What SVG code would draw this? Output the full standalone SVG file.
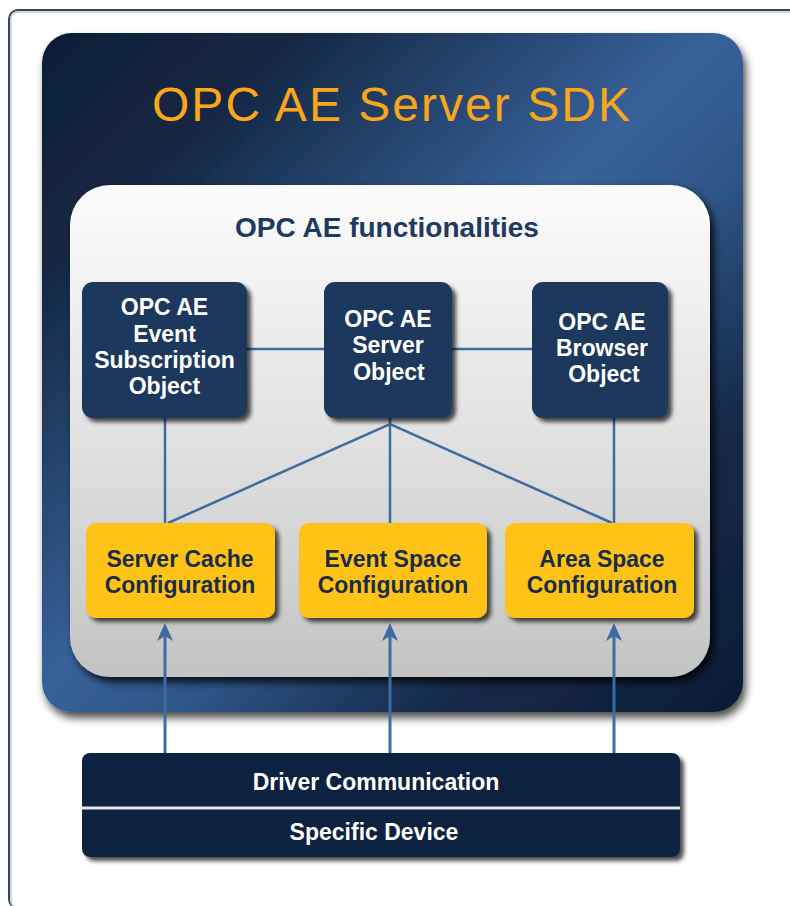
<svg xmlns="http://www.w3.org/2000/svg" width="790" height="906" viewBox="0 0 790 906">
  <defs>
    <linearGradient id="sdkFill" x1="0" y1="0" x2="1" y2="1">
      <stop offset="0" stop-color="#0f1e36"/>
      <stop offset="0.18" stop-color="#142743"/>
      <stop offset="0.48" stop-color="#37629a"/>
      <stop offset="0.6" stop-color="#2e5587"/>
      <stop offset="0.78" stop-color="#15294a"/>
      <stop offset="1" stop-color="#0d1c34"/>
    </linearGradient>
    <linearGradient id="panelFill" x1="0" y1="0" x2="0" y2="1">
      <stop offset="0" stop-color="#fcfcfc"/>
      <stop offset="0.5" stop-color="#e2e2e2"/>
      <stop offset="1" stop-color="#c3c3c3"/>
    </linearGradient>
    <filter id="bigShadow" x="-10%" y="-10%" width="125%" height="125%">
      <feDropShadow dx="3" dy="6" stdDeviation="4" flood-color="#000" flood-opacity="0.7"/>
    </filter>
    <filter id="panelShadow" x="-10%" y="-10%" width="125%" height="125%">
      <feDropShadow dx="4" dy="5" stdDeviation="4" flood-color="#000" flood-opacity="0.85"/>
    </filter>
    <filter id="boxShadow" x="-15%" y="-15%" width="135%" height="135%">
      <feDropShadow dx="4" dy="4" stdDeviation="2" flood-color="#000" flood-opacity="0.7"/>
    </filter>
    <marker id="arrowUp" markerUnits="userSpaceOnUse" viewBox="0 0 18 16" markerWidth="18" markerHeight="16" refX="7" refY="8" orient="auto">
      <path d="M0,0 L18,8 L0,16 L5,8 Z" fill="#3e6ba0"/>
    </marker>
    <style>
      .navy { fill: #1c375b; }
      .gold { fill: #fec313; }
      .wire { stroke: #3e6ba0; stroke-width: 2.5; fill: none; }
      .feed { stroke: #3e6ba0; stroke-width: 3; fill: none; }
      .lbl-w { font-family: "Liberation Sans", Arial, sans-serif; font-weight: bold; font-size: 23px; fill: #ffffff; text-anchor: middle; }
      .lbl-d { font-family: "Liberation Sans", Arial, sans-serif; font-weight: bold; font-size: 23px; fill: #1b2c45; text-anchor: middle; }
    </style>
  </defs>

  <rect width="790" height="906" fill="#ffffff"/>

  <!-- page frame -->
  <g id="frame">
    <rect x="9" y="10" width="820" height="898" rx="9" fill="none" stroke="#34455c" stroke-width="2"/>
    <rect x="11" y="12" width="816" height="896" rx="7" fill="none" stroke="#c5cad2" stroke-width="1.5"/>
  </g>

  <!-- SDK container -->
  <g id="sdk">
    <rect x="42" y="33" width="701" height="679" rx="30" fill="url(#sdkFill)" filter="url(#bigShadow)"/>
    <text x="391" y="121" font-family="'Liberation Sans', Arial, sans-serif" font-size="48" fill="#f9a61a" text-anchor="middle" textLength="478" lengthAdjust="spacing">OPC AE Server SDK</text>
  </g>

  <g id="functionalities">
    <rect x="70" y="185" width="640" height="492" rx="40" fill="url(#panelFill)" filter="url(#panelShadow)"/>
    <text x="387" y="237" font-family="'Liberation Sans', Arial, sans-serif" font-weight="bold" font-size="28" fill="#1e3a5f" text-anchor="middle">OPC AE functionalities</text>
  </g>

  <!-- connectors -->
  <g id="connectors">
    <line class="wire" x1="247" y1="349" x2="324" y2="349"/>
    <line class="wire" x1="452" y1="349" x2="532" y2="349"/>
    <line class="wire" x1="165" y1="418" x2="165" y2="523"/>
    <line class="wire" x1="614" y1="418" x2="614" y2="523"/>
    <line class="wire" x1="390" y1="418" x2="390" y2="523"/>
    <polyline class="wire" points="168,523 390,424 612,523"/>
    <line class="feed" x1="165" y1="753" x2="165" y2="634" marker-end="url(#arrowUp)"/>
    <line class="feed" x1="390" y1="753" x2="390" y2="634" marker-end="url(#arrowUp)"/>
    <line class="feed" x1="614" y1="753" x2="614" y2="634" marker-end="url(#arrowUp)"/>
  </g>

  <!-- object nodes -->
  <g id="subscription-object">
    <rect class="navy" x="82" y="282" width="165" height="136" rx="11" filter="url(#boxShadow)"/>
    <text class="lbl-w" x="164.5" y="315">OPC AE</text>
    <text class="lbl-w" x="164.5" y="342">Event</text>
    <text class="lbl-w" x="164.5" y="368">Subscription</text>
    <text class="lbl-w" x="164.5" y="394">Object</text>
  </g>
  <g id="server-object">
    <rect class="navy" x="324" y="282" width="128" height="136" rx="11" filter="url(#boxShadow)"/>
    <text class="lbl-w" x="388" y="327">OPC AE</text>
    <text class="lbl-w" x="388" y="353">Server</text>
    <text class="lbl-w" x="389" y="380">Object</text>
  </g>
  <g id="browser-object">
    <rect class="navy" x="532" y="282" width="136" height="136" rx="11" filter="url(#boxShadow)"/>
    <text class="lbl-w" x="602" y="330">OPC AE</text>
    <text class="lbl-w" x="602" y="356">Browser</text>
    <text class="lbl-w" x="604" y="382">Object</text>
  </g>

  <!-- configuration nodes -->
  <g id="server-cache-configuration">
    <rect class="gold" x="86" y="523" width="189" height="95" rx="10" filter="url(#boxShadow)"/>
    <text class="lbl-d" x="180" y="567">Server Cache</text>
    <text class="lbl-d" x="180" y="593">Configuration</text>
  </g>
  <g id="event-space-configuration">
    <rect class="gold" x="299" y="523" width="188" height="95" rx="10" filter="url(#boxShadow)"/>
    <text class="lbl-d" x="393" y="567">Event Space</text>
    <text class="lbl-d" x="393" y="593">Configuration</text>
  </g>
  <g id="area-space-configuration">
    <rect class="gold" x="505" y="523" width="189" height="95" rx="10" filter="url(#boxShadow)"/>
    <text class="lbl-d" x="602" y="567">Area Space</text>
    <text class="lbl-d" x="602" y="593">Configuration</text>
  </g>

  <!-- device stack -->
  <g id="driver-stack">
    <rect x="82" y="753" width="598" height="104" rx="8" fill="#11233f" filter="url(#boxShadow)"/>
    <line x1="82" y1="808" x2="680" y2="808" stroke="#e4e6ea" stroke-width="3"/>
    <text class="lbl-w" x="376" y="790">Driver Communication</text>
    <text class="lbl-w" x="374" y="840">Specific Device</text>
  </g>
</svg>
